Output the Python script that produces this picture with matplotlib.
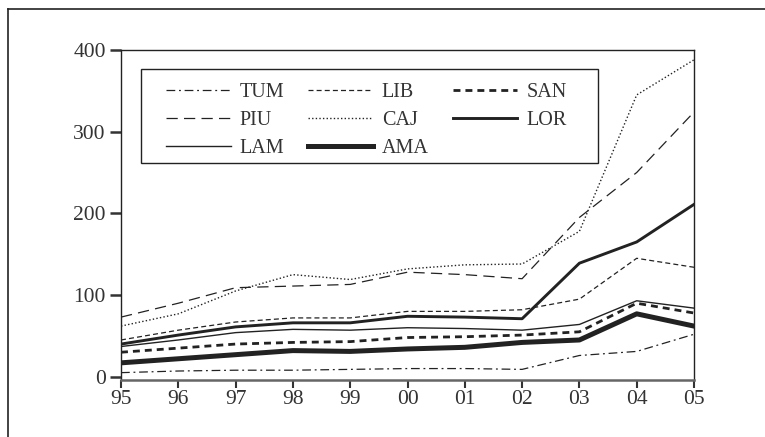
import matplotlib
matplotlib.use("Agg")
import matplotlib.pyplot as plt
from matplotlib.lines import Line2D
from matplotlib.patches import Rectangle

plt.rcParams["font.family"] = ["Liberation Serif", "DejaVu Serif"]

years = ["95", "96", "97", "98", "99", "00", "01", "02", "03", "04", "05"]
x = list(range(len(years)))

tum = [5, 7, 8, 8, 9, 10, 10, 9, 26, 31, 52]
piu = [73, 90, 109, 111, 113, 128, 125, 120, 195, 250, 324]
lam = [37, 45, 54, 58, 57, 60, 59, 57, 64, 93, 84]
lib = [45, 57, 67, 72, 72, 80, 80, 82, 95, 145, 134]
caj = [62, 77, 105, 125, 119, 132, 137, 138, 178, 345, 388]
ama = [17, 22, 27, 32, 31, 34, 36, 42, 45, 77, 62]
san = [30, 35, 40, 42, 43, 48, 49, 51, 55, 90, 78]
lor = [40, 51, 61, 66, 66, 74, 73, 71, 139, 165, 211]

fig = plt.figure(figsize=(7.65, 4.37), dpi=100)
ax = fig.add_axes([121 / 765, 1 - 380 / 437, 573 / 765, 330 / 437])

# outer frame (only top and left edges fall inside the image)
fig.add_artist(Line2D([8 / 765, 8 / 765], [-0.1, 1 - 9 / 437], transform=fig.transFigure, color="#222", lw=1.2))
fig.add_artist(Line2D([8 / 765, 1.1], [1 - 9 / 437, 1 - 9 / 437], transform=fig.transFigure, color="#222", lw=1.2))

h = {}
h["TUM"], = ax.plot(x, tum, color="#222", lw=0.9, ls=(0, (7, 3, 1.5, 3)))
h["PIU"], = ax.plot(x, piu, color="#222", lw=0.9, ls=(0, (9, 5)))
h["LAM"], = ax.plot(x, lam, color="#222", lw=1.0, ls="-")
h["LIB"], = ax.plot(x, lib, color="#222", lw=0.9, ls=(0, (4, 2.5)))
h["CAJ"], = ax.plot(x, caj, color="#222", lw=1.0, ls=(0, (1, 1.6)))
h["AMA"], = ax.plot(x, ama, color="#222", lw=3.6, ls="-")
h["SAN"], = ax.plot(x, san, color="#222", lw=2.0, ls=(0, (2.5, 1.8)))
h["LOR"], = ax.plot(x, lor, color="#222", lw=2.1, ls="-")

ax.set_xlim(0, 10)
ax.set_ylim(-4, 400)
ax.set_xticks(x)
ax.set_xticklabels(years)
ax.set_yticks([0, 100, 200, 300, 400])

ax.tick_params(axis="both", labelsize=15.5, colors="#333")
ax.tick_params(axis="x", direction="out", length=6, width=1.5, pad=1)
ax.tick_params(axis="y", direction="out", length=8, width=1.8, pad=3)
ax.spines["bottom"].set_color("#666")
ax.spines["bottom"].set_linewidth(1.8)
for s in ["left", "top", "right"]:
    ax.spines[s].set_color("#222")
    ax.spines[s].set_linewidth(1.0)

# legend box drawn separately so vertical and horizontal padding can differ
ax.add_patch(Rectangle((20 / 573, 1 - 113 / 330), 457 / 573, 94 / 330, transform=ax.transAxes,
                       facecolor="white", edgecolor="#222", lw=1.0, zorder=3))

order = ["TUM", "PIU", "LAM", "LIB", "CAJ", "AMA", "SAN", "LOR"]
leg = ax.legend([h[k] for k in order], order, ncol=3, loc="upper left",
                bbox_to_anchor=(37 / 573, 1 - 25 / 330), fontsize=14.5,
                frameon=False, handlelength=3.2, handletextpad=0.45,
                labelspacing=0.45, columnspacing=1.2, borderpad=0.4,
                borderaxespad=0)
leg.set_zorder(4)
for t in leg.get_texts():
    t.set_color("#333")

fig.savefig("out.png", dpi=100)
